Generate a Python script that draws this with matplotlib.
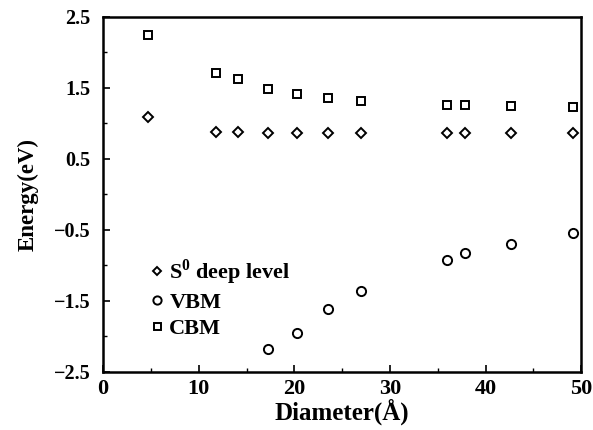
import numpy as np
import matplotlib.pyplot as plt
from matplotlib.ticker import MultipleLocator

plt.rcParams["font.family"] = ["Liberation Serif", "DejaVu Serif"]
plt.rcParams["font.weight"] = "bold"
plt.rcParams["mathtext.fontset"] = "custom"
plt.rcParams["mathtext.rm"] = "Liberation Serif:bold"
plt.rcParams["mathtext.bf"] = "Liberation Serif:bold"

# Data
diam_s = [4.7, 11.8, 14.1, 17.2, 20.3, 23.5, 27.0, 36.0, 37.9, 42.7, 49.1]
deep_level = [1.09, 0.88, 0.88, 0.86, 0.86, 0.86, 0.86, 0.86, 0.86, 0.86, 0.87]
cbm = [2.25, 1.71, 1.63, 1.49, 1.41, 1.36, 1.32, 1.26, 1.26, 1.24, 1.23]

diam_v = [17.2, 20.3, 23.5, 27.0, 36.0, 37.9, 42.7, 49.1]
vbm = [-2.18, -1.95, -1.61, -1.36, -0.92, -0.82, -0.70, -0.54]

fig = plt.figure(figsize=(5.93, 4.30), dpi=100)
ax = fig.add_axes([0.174, 0.135, 0.806, 0.826])

ax.plot(diam_s, deep_level, linestyle="none", marker="D", ms=4.8, mfc="none",
        mec="black", mew=1.4, label=r"S$^{\mathbf{0}}$ deep level")
ax.plot(diam_v, vbm, linestyle="none", marker="o", ms=6.6, mfc="none",
        mec="black", mew=1.4, label="VBM")
ax.plot(diam_s, cbm, linestyle="none", marker="s", ms=5.6, mfc="none",
        mec="black", mew=1.4, label="CBM")

ax.set_xlim(0, 50)
ax.set_ylim(-2.5, 2.5)
ax.xaxis.set_major_locator(MultipleLocator(10))
ax.xaxis.set_minor_locator(MultipleLocator(5))
ax.set_yticks([-2.5, -1.5, -0.5, 0.5, 1.5, 2.5])
ax.yaxis.set_minor_locator(MultipleLocator(0.5))
ax.set_yticklabels(["\u22122.5", "\u22121.5", "\u22120.5", "0.5", "1.5", "2.5"])
ax.tick_params(which="both", direction="in", top=False, right=False)
ax.tick_params(axis="x", labelsize=16, pad=5)
ax.tick_params(axis="y", labelsize=14.5, pad=9)
ax.tick_params(which="major", length=5, width=1.2)
ax.tick_params(which="minor", length=3, width=1.0)
for spine in ax.spines.values():
    spine.set_linewidth(1.8)

ax.set_xlabel("Diameter(\u00c5)", fontsize=18, fontweight="bold", labelpad=0)
ax.set_ylabel("Energy(eV)", fontsize=16.5, fontweight="bold", labelpad=11)

ax.legend(loc="lower left", bbox_to_anchor=(0.064, 0.056), frameon=False,
          handletextpad=0.1, handlelength=0.9, labelspacing=0.24,
          markerscale=0.9, borderaxespad=0.2,
          prop={"weight": "bold", "size": 16})

fig.savefig("out.png", dpi=100)
